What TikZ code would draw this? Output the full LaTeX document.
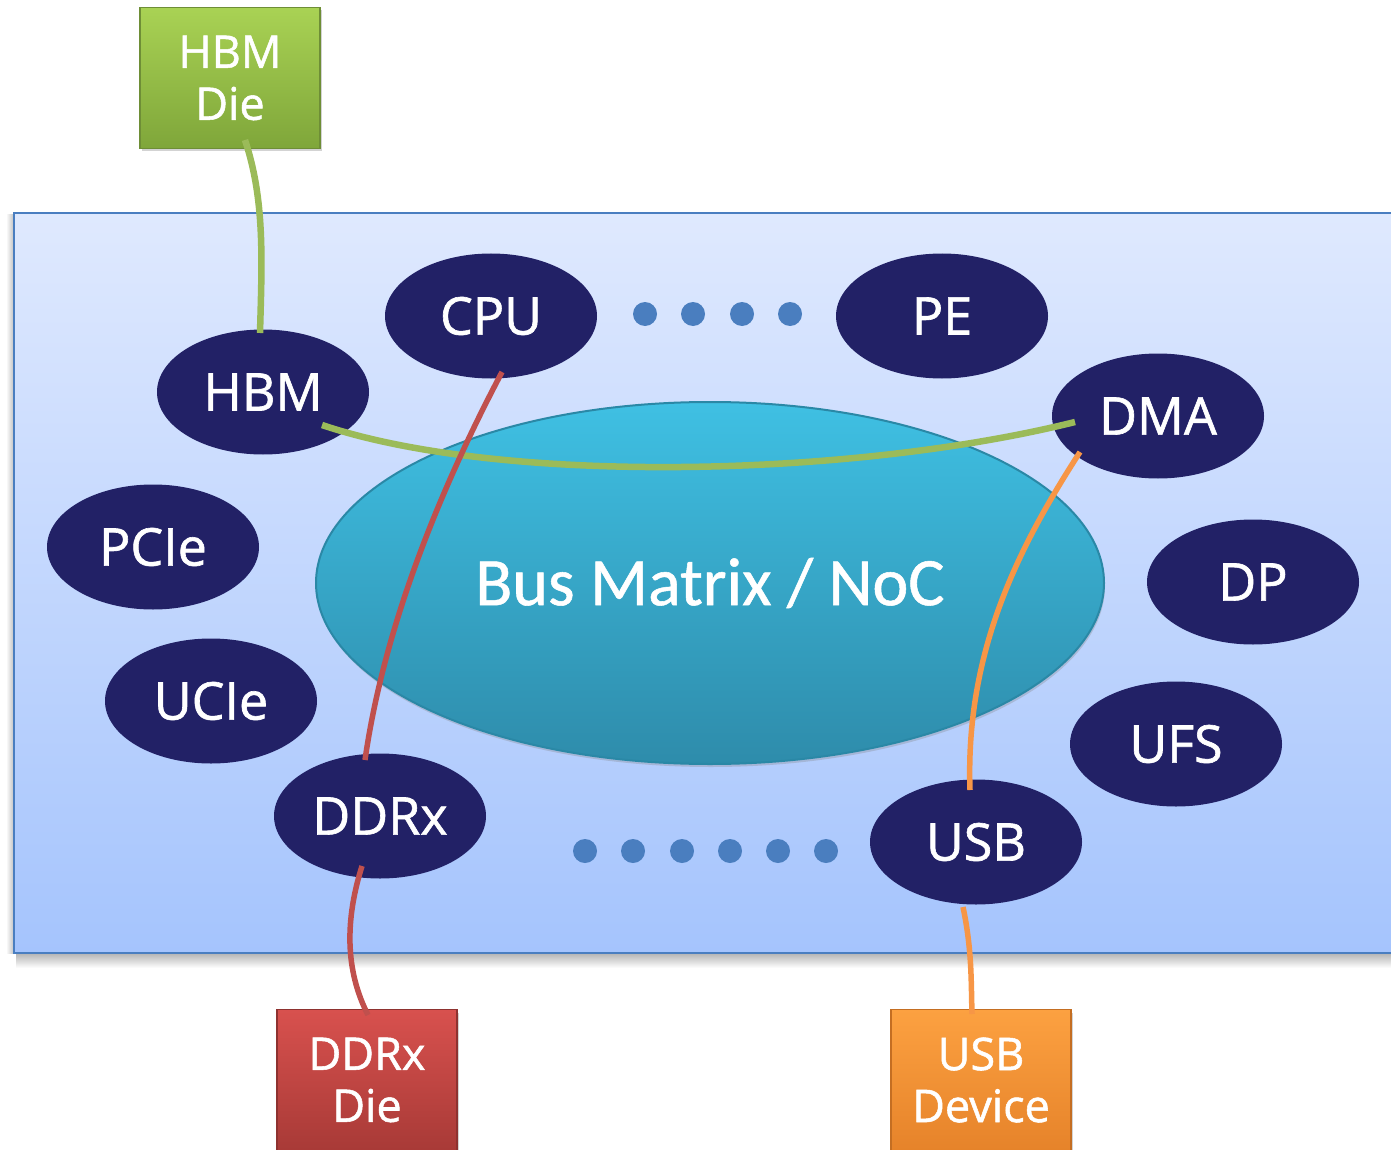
\documentclass[tikz,border=0pt]{standalone}
\usepackage{fontspec}
\setmainfont{Open Sans}
\newfontfamily\nodefont[FakeBold=1.2]{Open Sans}
\newfontfamily\busfont[FakeBold=0.8]{Carlito}
\usetikzlibrary{shapes.geometric,calc,shadows}
\definecolor{navy}{HTML}{222166}
\definecolor{mainTop}{HTML}{DFE9FE}
\definecolor{mainBot}{HTML}{A5C4FD}
\definecolor{mainBorder}{HTML}{4A7EC0}
\definecolor{busTop}{HTML}{3FC0E3}
\definecolor{busBot}{HTML}{2E8CAB}
\definecolor{busBorder}{HTML}{2A88A6}
\definecolor{dotblue}{HTML}{4A7EBF}
\definecolor{grTop}{HTML}{A9D254}
\definecolor{grBot}{HTML}{7FA63A}
\definecolor{grBorder}{HTML}{6E8E36}
\definecolor{rdTop}{HTML}{D8514E}
\definecolor{rdBot}{HTML}{A83A37}
\definecolor{rdBorder}{HTML}{8E3230}
\definecolor{orTop}{HTML}{FCA141}
\definecolor{orBot}{HTML}{E6832A}
\definecolor{orBorder}{HTML}{C46E22}
\definecolor{wireGreen}{HTML}{9BBB59}
\definecolor{wireRed}{HTML}{C0504D}
\definecolor{wireOrange}{HTML}{F79646}
\begin{document}
\begin{tikzpicture}[x=1pt,y=-1pt,
  unit/.style={ellipse, fill=navy, minimum width=212pt, minimum height=125pt,
    inner sep=0pt, text=white, font=\nodefont\fontsize{52}{60}\selectfont},
  diebox/.style={rectangle, minimum width=180pt, minimum height=141pt, inner sep=0pt,
    text=white, align=center, font=\nodefont\fontsize{45}{52}\selectfont, line width=1.5pt,
    drop shadow={shadow xshift=2pt, shadow yshift=-3pt, opacity=0.35}},
  bdot/.style={circle, fill=dotblue, minimum size=24pt, inner sep=0pt},
  gwire/.style={draw=wireGreen, line width=6.5pt},
  rwire/.style={draw=wireRed, line width=5.5pt},
  owire/.style={draw=wireOrange, line width=5.5pt}]
\useasboundingbox (0,0) rectangle (1391,1150);

% main panel
\shade[top color=black!30, bottom color=white] (16,953) rectangle (1400,968);
\shade[left color=white, right color=black!25] (6,215) rectangle (14,953);
\shade[top color=mainTop, bottom color=mainBot] (14,213) rectangle (1400,953);
\draw[mainBorder, line width=2pt] (1400,213) -- (14,213) -- (14,953) -- (1400,953);

% bus
\node[ellipse, minimum width=788pt, minimum height=362pt, inner sep=0pt,
  top color=busTop, bottom color=busBot, draw=busBorder, line width=2pt,
  drop shadow={shadow xshift=1pt, shadow yshift=-3pt, opacity=0.3},
  text=white, font=\busfont\fontsize{68}{78}\selectfont] (bus) at (710,583) {Bus Matrix / NoC};

% units
\node[unit] (cpu)  at (491,316) {CPU};
\node[unit] (pe)   at (942,316) {PE};
\node[unit] (hbm)  at (263,392) {HBM};
\node[unit] (dma)  at (1158,416) {DMA};
\node[unit] (pcie) at (153,547) {PCIe};
\node[unit] (dp)   at (1253,582) {DP};
\node[unit] (ucie) at (211,701) {UCIe};
\node[unit] (ufs)  at (1176,744) {UFS};
\node[unit] (ddrx) at (380,816) {DDRx};
\node[unit] (usb)  at (976,842) {USB};

% dots
\node[bdot] (d1) at (645,314) {};
\node[bdot] (d2) at (693,314) {};
\node[bdot] (d3) at (742,314) {};
\node[bdot] (d4) at (790,314) {};
\node[bdot] (e1) at (585,851) {};
\node[bdot] (e2) at (633,851) {};
\node[bdot] (e3) at (682,851) {};
\node[bdot] (e4) at (730,851) {};
\node[bdot] (e5) at (778,851) {};
\node[bdot] (e6) at (826,851) {};

% die boxes
\node[diebox, top color=grTop, bottom color=grBot, draw=grBorder] (hbmdie) at (230,78) {HBM\\Die};
\node[diebox, top color=rdTop, bottom color=rdBot, draw=rdBorder] (ddrdie) at (367,1080) {DDRx\\Die};
\node[diebox, top color=orTop, bottom color=orBot, draw=orBorder] (usbdev) at (981,1080) {USB\\Device};

% wires
\draw[gwire] ($(hbmdie)+(15,62)$) .. controls (265,200) and (262,260) .. ($(hbm)+(-3,-59)$);
\draw[gwire] ($(hbm)+(59,33)$) .. controls (500,485) and (850,478) .. ($(dma)+(-83,6)$);
\draw[rwire] ($(cpu)+(11,56)$) .. controls (445,480) and (385,620) .. ($(ddrx)+(-15,-56)$);
\draw[rwire] ($(ddrx)+(-18,50)$) .. controls (345,920) and (345,970) .. ($(ddrdie)+(1,-65)$);
\draw[owire] ($(dma)+(-78,36)$) .. controls (1020,545) and (965,650) .. ($(usb)+(-6,-52)$);
\draw[owire] ($(usb)+(-13,65)$) .. controls (972,950) and (971,980) .. ($(usbdev)+(-9,-66)$);
\end{tikzpicture}
\end{document}
